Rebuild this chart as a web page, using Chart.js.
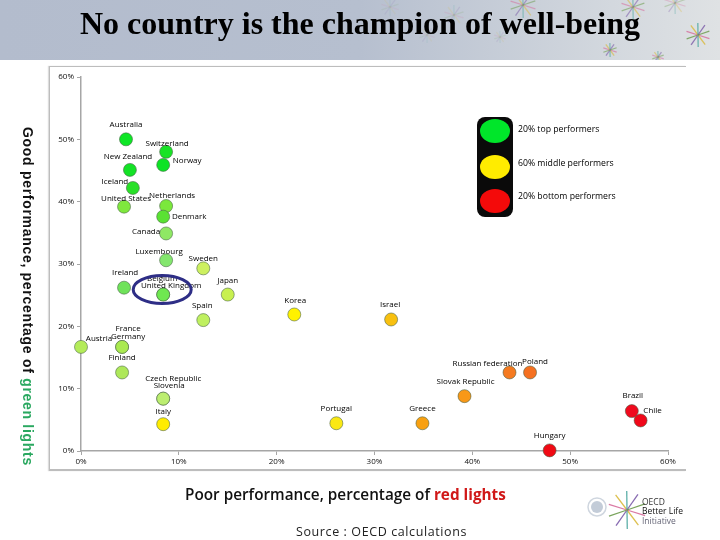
<!DOCTYPE html>
<html>
<head>
<meta charset="utf-8">
<title>No country is the champion of well-being</title>
<script src="https://cdn.jsdelivr.net/npm/chart.js@4/dist/chart.umd.min.js"></script>
<style>
  html, body { margin: 0; padding: 0; background: #fff; }
  #page { position: relative; width: 720px; height: 540px; overflow: hidden; }
  #page div { position: absolute; white-space: nowrap; }
  #band { left: 0; top: 0; width: 720px; height: 60px; background: linear-gradient(90deg, #b3bccd 0%, #b6bfcf 50%, #d3d8de 85%, #dfe2e4 100%); }
  #frame { left: 49px; top: 66px; width: 636px; height: 402px; border: solid #bdbdbd; border-width: 1px 0 2px 1.5px; box-shadow: -1px 0 1px #ddd; }
  canvas { position: absolute; left: 0; top: 0; }
  #title { left: 0; width: 720px; top: 5px; text-align: center; font: bold 32px "Liberation Serif", serif; color: #000; }
  #ylabel { left: 20px; top: 127px; writing-mode: vertical-rl; font: bold 14px "Liberation Sans", sans-serif; letter-spacing: .7px; color: #111; }
  #xlabel { left: 185px; top: 484px; font: 600 15.3px "Open Sans", sans-serif; color: #111; }
  #source { left: 296px; top: 523px; font: 12.5px "Open Sans", sans-serif; letter-spacing: .6px; color: #222; }
  .key { left: 518px; font: 8.7px "Open Sans", sans-serif; color: #000; }
  .logo { left: 642px; font: 8.5px "Open Sans", sans-serif; color: #333; }
  #lamp { left: 477px; top: 117px; width: 36px; height: 100px; background: #0a0a0a; border-radius: 8px; }
  .light { left: 3px; width: 30px; height: 24px; border-radius: 50%; }
</style>
</head>
<body>
<div id="page">
  <div id="band"></div>
  <div id="frame"></div>
  <canvas id="chart" width="720" height="540"></canvas>
  <div id="title">No country is the champion of well-being</div>
  <div id="ylabel">Good performance, percentage of <span style="color:#2aa860">green lights</span></div>
  <div id="xlabel">Poor performance, percentage of <span style="color:#d01818;font-weight:700">red lights</span></div>
  <div id="source">Source : OECD calculations</div>
  <div id="lamp">
    <div class="light" style="top:2px;background:#00e62a"></div>
    <div class="light" style="top:38px;background:#ffec00"></div>
    <div class="light" style="top:72px;background:#f40a0a"></div>
  </div>
  <div class="key" style="top:123px">20% top performers</div>
  <div class="key" style="top:157px">60% middle performers</div>
  <div class="key" style="top:190px">20% bottom performers</div>
  <div class="logo" style="top:496px">OECD</div>
  <div class="logo" style="top:505px;color:#111">Better Life</div>
  <div class="logo" style="top:515px;color:#667">Initiative</div>
</div>
<script>
// Data
var countries = ['Australia', 'Switzerland', 'Norway', 'New Zealand', 'Iceland', 'United States', 'Netherlands', 'Denmark', 'Canada', 'Luxembourg', 'Sweden', 'Ireland', 'Belgium', 'United Kingdom', 'Japan', 'Spain', 'Austria', 'France', 'Germany', 'Finland', 'Czech Republic', 'Slovenia', 'Italy', 'Korea', 'Israel', 'Russian federation', 'Poland', 'Slovak Republic', 'Portugal', 'Greece', 'Hungary', 'Brazil', 'Chile'];
var redLights = [4.6, 8.7, 8.4, 5.0, 5.3, 4.4, 8.7, 8.4, 8.7, 8.7, 12.5, 4.4, 8.4, 8.4, 15.0, 12.5, 0, 4.2, 4.2, 4.2, 8.4, 8.4, 8.4, 21.8, 31.7, 43.8, 45.9, 39.2, 26.1, 34.9, 47.9, 56.3, 57.2];
var greenLights = [50, 48, 45.9, 45.1, 42.2, 39.2, 39.3, 37.6, 34.9, 30.6, 29.3, 26.2, 25.1, 25.1, 25.1, 21, 16.7, 16.7, 16.7, 12.6, 8.4, 8.4, 4.3, 21.9, 21.1, 12.6, 12.6, 8.8, 4.45, 4.45, 0.1, 6.4, 4.9];
var yTicks = [0, 10, 20, 30, 40, 50, 60];

// Styling, same order as countries
var pointColors = ['#0ee626', '#19e326', '#0de325', '#14e226', '#29e028', '#7fe83e', '#7be83c', '#5ae233', '#8fe864', '#84e66e', '#cdf060', '#6fe25a', '#6fe850', '#6fe850', '#c8f050', '#bff060', '#b4ec5a', '#aaea50', '#aaea50', '#aee85a', '#bcee70', '#bcee70', '#ffec00', '#fff200', '#f8c010', '#f57a20', '#f57020', '#f89818', '#fae814', '#f8a010', '#f00a14', '#f00a1e', '#f0081a'];
var labelDx = [0, 1, 24, -2, -18, 2, 6, 26, -20, -7, 0, 1, -1, 8, 0, -1, 18, 6, 6, 0, 10, 6, 0, 1, -1, -22, 5, 1, 0, 0, 0, 1, 12];
var labelDy = [-15, -8, -4, -13, -6, -8, -10, 0, -2, -9, -10, -15, -16, -9, -14, -14, -8, -18, -10, -15, -20, -13, -12, -14, -15, -9, -11, -14, -15, -15, -15, -15, -10];

// Decoration in the header band
var flowerX = [523, 633, 675, 698, 610, 658, 454, 390, 427, 500];
var flowerY = [5, 7, 3, 35, 50, 57, 15, 7, 35, 37];
var flowerR = [13, 12, 11, 12, 7, 6, 10, 9, 8, 6];
var flowerAlpha = [.5, .55, .3, .8, .6, .5, .15, .1, .1, .12];
var flowerColors = ['#d66a9a', '#d9b93c', '#4da7a0', '#7a5aa8', '#6a9a4a'];

// Highlight around Belgium / United Kingdom
var ringX = 8.3, ringY = 25.9;

function burst(ctx, x, y, r, alpha) {
    ctx.save();
    ctx.globalAlpha = alpha;
    ctx.lineWidth = 1.3;
    for (var i = 0; i < 10; i++) {
        var a = i * Math.PI / 5 + .3;
        ctx.strokeStyle = flowerColors[i % flowerColors.length];
        ctx.beginPath();
        ctx.moveTo(x, y);
        ctx.lineTo(x + Math.cos(a) * r, y + Math.sin(a) * r);
        ctx.stroke();
    }
    ctx.restore();
}

var extras = {
    id: 'extras',
    beforeDraw: function(chart) {
        var ctx = chart.ctx;
        ctx.save();
        ctx.beginPath();
        ctx.rect(0, 0, 720, 60);
        ctx.clip();
        flowerX.forEach(function(x, i) {
            burst(ctx, x, flowerY[i], flowerR[i], flowerAlpha[i]);
        });
        ctx.restore();

        // logo
        burst(ctx, 627, 510, 19, .9);
        ctx.save();
        ctx.fillStyle = '#c3ccd8';
        ctx.beginPath();
        ctx.ellipse(597, 507, 6, 6, 0, 0, Math.PI * 2);
        ctx.fill();
        ctx.strokeStyle = '#cfd6df';
        ctx.lineWidth = 1.5;
        ctx.beginPath();
        ctx.ellipse(597, 507, 9, 9, 0, 0, Math.PI * 2);
        ctx.stroke();
        ctx.restore();
    },
    afterDatasetsDraw: function(chart) {
        var ctx = chart.ctx;
        var xs = chart.scales.x, ys = chart.scales.y;
        ctx.save();
        ctx.font = '8px "Open Sans", sans-serif';
        ctx.fillStyle = '#000';
        ctx.textAlign = 'center';
        ctx.textBaseline = 'middle';
        countries.forEach(function(name, i) {
            ctx.fillText(name, xs.getPixelForValue(redLights[i]) + labelDx[i], ys.getPixelForValue(greenLights[i]) + labelDy[i]);
        });
        ctx.strokeStyle = '#2e2e86';
        ctx.lineWidth = 3;
        ctx.beginPath();
        ctx.ellipse(xs.getPixelForValue(ringX), ys.getPixelForValue(ringY), 29, 14, 0, 0, Math.PI * 2);
        ctx.stroke();
        ctx.restore();
    }
};

var points = countries.map(function(name, i) {
    return { x: redLights[i], y: greenLights[i] };
});

var axisFont = { family: 'Open Sans', size: 8 };

new Chart(document.getElementById('chart'), {
    type: 'scatter',
    data: {
        datasets: [{
            data: points,
            pointBackgroundColor: pointColors,
            pointBorderColor: 'rgba(70, 95, 70, .55)',
            pointBorderWidth: 1,
            pointRadius: 6.5,
            clip: false
        }]
    },
    options: {
        responsive: false,
        animation: false,
        layout: { padding: { left: 49, right: 52, top: 77, bottom: 69 } },
        plugins: { legend: { display: false }, tooltip: { enabled: false } },
        scales: {
            x: {
                type: 'linear', min: 0, max: 60,
                border: { color: '#a6a6a6', width: 1.5 },
                grid: { drawOnChartArea: false, tickLength: 4, color: '#a6a6a6' },
                ticks: { stepSize: 10, padding: 2, maxRotation: 0, color: '#111', font: axisFont, callback: function(v) { return v + '%'; } },
                afterFit: function(scale) { scale.height = 20; }
            },
            y: {
                type: 'linear', min: yTicks[0], max: yTicks[yTicks.length - 1],
                border: { color: '#a6a6a6', width: 1.5 },
                grid: { drawOnChartArea: false, tickLength: 4, color: '#a6a6a6' },
                ticks: { stepSize: 10, padding: 3, color: '#111', font: axisFont, callback: function(v) { return v + '%'; } },
                afterFit: function(scale) { scale.width = 32; }
            }
        }
    },
    plugins: [extras]
});
</script>
</body>
</html>
